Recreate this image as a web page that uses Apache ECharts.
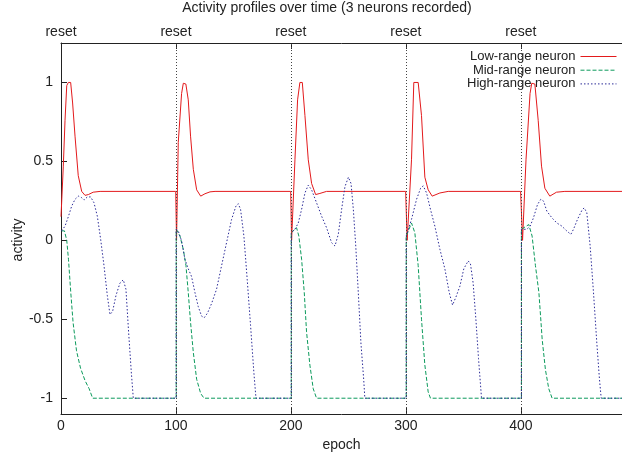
<!DOCTYPE html>
<html><head><meta charset="utf-8">
<script src="https://cdn.jsdelivr.net/npm/echarts@6/dist/echarts.min.js"></script>
<style>html,body{margin:0;padding:0;background:#fff}#c{width:622px;height:459px}</style>
</head><body><div id="c"></div>
<script>
const titleText = 'Activity profiles over time (3 neurons recorded)';
const xName = 'epoch';
const yName = 'activity';
const seriesNames = ['Low-range neuron', 'Mid-range neuron', 'High-range neuron'];
const resetEpochs = [100, 200, 300, 400];
const resetLabelEpochs = [0, 100, 200, 300, 400];
const resetLabel = 'reset';
const xTicks = [0, 100, 200, 300, 400];
const yTicks = [-1, -0.5, 0, 0.5, 1];

const lowRange = [
  [0,0.15],[2,0.47],[3.5,0.76],[5,0.98],[6.4,1.0],[8.4,1.0],[10.1,0.87],[12.2,0.66],[15,0.41],[18,0.31],[20.9,0.285],[23.8,0.29],[28,0.305],[34,0.31],
  [99.8,0.31],[100.5,0.0],[102,0.62],[104.9,0.93],[106.4,0.995],[107.4,1.0],[108.6,0.99],[110.7,0.89],[112.7,0.66],[115.1,0.45],[118,0.32],[121.5,0.28],[125.2,0.295],[129.6,0.307],[134,0.31],
  [199.8,0.31],[200.6,0.0],[203.5,0.51],[205.8,0.89],[207.8,1.0],[209.9,1.0],[212.2,0.79],[215.1,0.51],[218,0.36],[221.5,0.29],[225.2,0.297],[231,0.31],
  [299.8,0.31],[301.1,0.0],[304.9,0.51],[306.9,1.0],[310.7,1.0],[313.6,0.79],[316.5,0.40],[319.4,0.32],[322.9,0.28],[329.6,0.30],[336.8,0.31],
  [399.8,0.31],[401.5,0.0],[404.5,0.51],[408,0.93],[409.5,0.995],[410.6,1.0],[412.2,0.99],[415.1,0.76],[418,0.47],[420.9,0.33],[425.2,0.28],[431,0.305],[438.3,0.31],[488,0.31]
];
const midRange = [
  [0.5,0.06],[3,0.06],[5,0.0],[6.5,-0.12],[8.5,-0.33],[10.5,-0.52],[13.5,-0.7],[17,-0.81],[21,-0.89],[24.5,-0.94],[27.5,-1],
  [100.2,-1],[100.2,0.07],[103.5,0.027],[106.4,-0.058],[108.7,-0.16],[110.7,-0.33],[112.7,-0.52],[115.1,-0.71],[118,-0.88],[121.5,-0.97],[124.4,-1],
  [200.3,-1],[200.3,0.048],[204.9,0.08],[206.9,0.027],[209.3,-0.12],[211.6,-0.33],[213.6,-0.58],[216.5,-0.79],[219.4,-0.94],[222.3,-1],
  [300.3,-1],[300.3,0.027],[304.9,0.11],[307.8,0.048],[310.7,-0.16],[313.6,-0.5],[316.5,-0.79],[319.4,-0.96],[321.4,-1],
  [400.5,-1],[400.5,0.07],[406.9,0.10],[409.8,0.027],[412.7,-0.16],[415.7,-0.33],[418.6,-0.63],[421.4,-0.82],[424.3,-0.94],[427.2,-1],[488,-1]
];
const highRange = [
  [0.5,0.06],[3.5,0.09],[6.4,0.15],[9.3,0.217],[12.2,0.26],[15.1,0.28],[18,0.27],[20,0.255],[22.9,0.275],[25.8,0.275],[28.7,0.238],[31.6,0.153],[34.5,0.006],[37.4,-0.16],[40.3,-0.35],[42.6,-0.47],[44.9,-0.45],[47.8,-0.35],[51.3,-0.27],[54.2,-0.25],[56.5,-0.31],[58.8,-0.58],[61.2,-0.84],[62.9,-1],
  [100.2,-1],[100.2,0.07],[102,0.06],[104.9,-0.004],[107.8,-0.12],[110.7,-0.18],[113.6,-0.23],[116.5,-0.33],[119.4,-0.42],[122.3,-0.48],[124.6,-0.49],[127.5,-0.46],[131,-0.40],[135.3,-0.31],[139.7,-0.16],[144,-0.015],[148.4,0.133],[152.2,0.217],[154.2,0.232],[156.2,0.196],[159.1,0.027],[162,-0.25],[164.9,-0.54],[167.8,-0.84],[169.6,-1],
  [200.3,-1],[200.3,0.048],[203.5,0.07],[206.4,0.11],[209.3,0.196],[212.2,0.30],[215.1,0.35],[218,0.32],[222.3,0.238],[226.7,0.153],[231,0.08],[235.4,-0.015],[238.3,-0.036],[241.2,0.038],[244.1,0.196],[247,0.34],[250,0.40],[252.3,0.36],[254.3,0.196],[256.4,-0.036],[258.6,-0.33],[260.9,-0.65],[263.3,-0.88],[264.3,-1],
  [300.3,-1],[300.3,0.027],[304.9,0.133],[309.3,0.26],[312.8,0.33],[315.1,0.345],[318,0.30],[321.4,0.196],[325.2,0.09],[329.6,-0.057],[333.9,-0.18],[337.7,-0.33],[340.6,-0.41],[343.5,-0.36],[347,-0.29],[350.4,-0.18],[354.2,-0.13],[356.2,-0.15],[358.5,-0.27],[360.9,-0.50],[363.2,-0.75],[365.8,-1],
  [400.5,-1],[400.5,0.07],[405.2,0.07],[408.1,0.09],[411,0.143],[414.5,0.227],[417.4,0.26],[419.8,0.248],[422.6,0.185],[427,0.143],[431.3,0.11],[435.7,0.09],[440,0.059],[443.5,0.038],[445.8,0.07],[449.3,0.133],[453.1,0.19],[455.1,0.206],[457.4,0.175],[460.3,-0.036],[463.2,-0.33],[466.1,-0.65],[468.4,-0.88],[469.9,-1],[488,-1]
];

const FONT = 'Liberation Sans, Arial, Helvetica, sans-serif';
const TXT = '#222';
const chart = echarts.init(document.getElementById('c'), null, {renderer: 'canvas'});
const axisLine = {show: true, onZero: false, lineStyle: {color: '#222', width: 1}};
const option = {
  animation: false,
  backgroundColor: '#fff',
  title: {
    text: titleText, left: 327, top: 0, padding: [1, 0, 0, 0], textAlign: 'center',
    textStyle: {fontFamily: FONT, fontSize: 14, fontWeight: 'normal', color: TXT}
  },
  legend: {
    orient: 'vertical', align: 'right', right: 0, top: 45,
    itemWidth: 36, itemHeight: 10, itemGap: 0.7,
    itemStyle: {opacity: 0},
    lineStyle: {width: 1},
    textStyle: {fontFamily: FONT, fontSize: 13, color: TXT, lineHeight: 12},
    data: seriesNames
  },
  grid: {left: 61, top: 43, right: 0, bottom: 45, containLabel: false},
  graphic: [{
    type: 'text', x: 18, y: 240, rotation: Math.PI / 2,
    style: {text: yName, font: '14px ' + FONT, fill: TXT, align: 'center', verticalAlign: 'middle'}
  }],
  xAxis: [{
    type: 'value', position: 'bottom', min: 0, max: 488,
    name: xName, nameLocation: 'middle', nameGap: 22,
    nameTextStyle: {fontFamily: FONT, fontSize: 14, color: TXT},
    axisLine: axisLine,
    axisTick: {show: true, inside: true, length: 6, customValues: xTicks, lineStyle: {color: '#222'}},
    axisLabel: {customValues: xTicks, margin: 5, fontFamily: FONT, fontSize: 14, color: TXT},
    splitLine: {show: false}
  }, {
    type: 'value', position: 'top', min: 0, max: 488,
    axisLine: axisLine,
    axisTick: {show: true, inside: true, length: 6, customValues: resetLabelEpochs, lineStyle: {color: '#222'}},
    axisLabel: {customValues: resetLabelEpochs, margin: 4, fontFamily: FONT, fontSize: 14, color: TXT, formatter: () => resetLabel},
    splitLine: {show: false}
  }],
  yAxis: {
    type: 'value', min: -1.1, max: 1.25,
    axisLine: axisLine,
    axisTick: {show: true, inside: true, length: 6, customValues: yTicks, lineStyle: {color: '#222'}},
    axisLabel: {customValues: yTicks, margin: 8, fontFamily: FONT, fontSize: 14, color: TXT},
    splitLine: {show: false}
  },
  series: [{
    name: seriesNames[0], type: 'line', data: lowRange, symbol: 'none', smooth: false,
    lineStyle: {color: '#e31a1c', width: 1}, itemStyle: {color: '#e31a1c'}, z: 3,
    markLine: {
      silent: true, symbol: 'none', label: {show: false},
      lineStyle: {color: '#444', width: 1, type: [1, 2]},
      data: resetEpochs.map(e => ({xAxis: e}))
    }
  }, {
    name: seriesNames[1], type: 'line', data: midRange, symbol: 'none', smooth: false,
    lineStyle: {color: '#0c9a5c', width: 1, type: [4, 2]}, itemStyle: {color: '#0c9a5c'}, z: 3
  }, {
    name: seriesNames[2], type: 'line', data: highRange, symbol: 'none', smooth: false,
    lineStyle: {color: '#2c2c98', width: 1, type: [1.5, 2]}, itemStyle: {color: '#2c2c98'}, z: 3
  }]
};
chart.setOption(option);
</script>
</body></html>
